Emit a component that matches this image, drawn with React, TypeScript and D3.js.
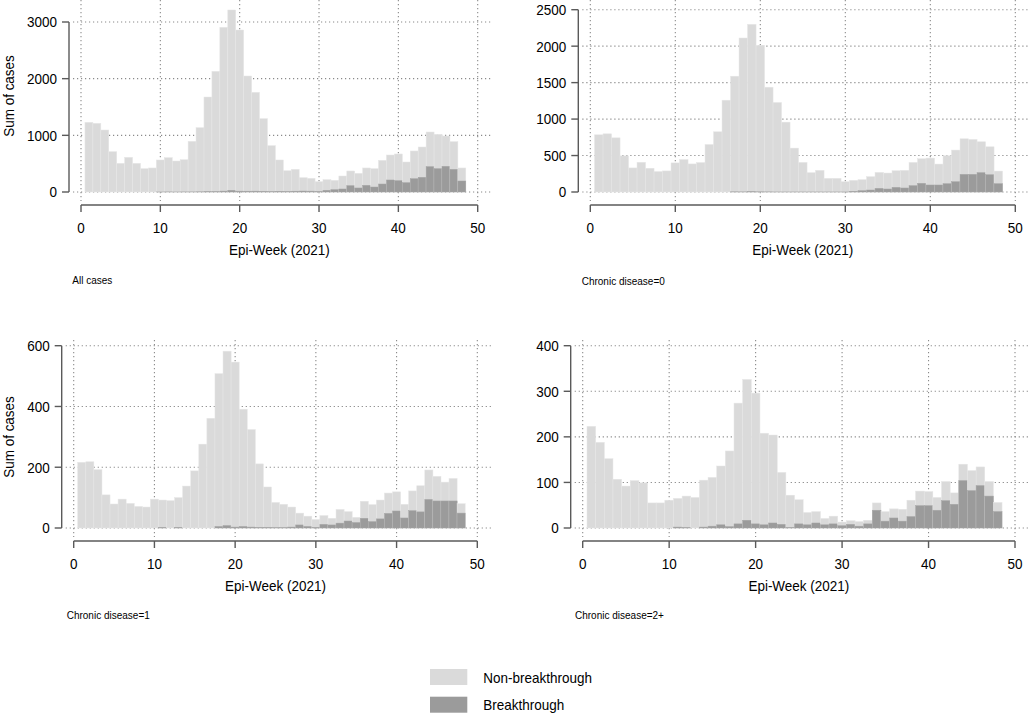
import React from "react";
import * as d3 from "d3";

// ---------- DATA ----------
const weeks: number[] = Array.from({ length: 48 }, (_, i) => i + 1);

const allTotal = [1229,1212,1094,712,506,612,506,412,424,565,606,547,570,894,1135,1676,2129,2906,3212,2859,2047,1759,1294,818,565,376,400,253,241,182,218,206,282,371,329,424,412,559,653,671,529,724,794,1059,1018,988,888,424];
const allBreak = [0,0,0,0,0,0,0,0,0,1,2,1,2,2,4,7,6,16,30,15,14,15,12,5,11,8,14,17,15,9,30,41,53,112,71,118,88,141,212,200,165,235,259,447,412,453,400,194];

const cd0Total = [784,798,743,495,330,408,326,280,289,399,445,385,404,651,826,1259,1588,2112,2299,2012,1437,1227,958,602,406,265,297,187,187,141,160,169,210,269,260,292,297,406,456,465,383,497,575,730,721,689,620,287];
const cd0Break = [0,0,0,0,0,0,0,0,0,0,0,0,0,0,0,0,3,2,5,3,2,1,1,1,1,1,1,1,1,1,9,18,27,50,41,64,55,87,119,96,96,114,141,242,242,265,237,114];

const cd1Total = [216,218,192,109,79,95,81,71,69,95,92,90,100,138,188,276,361,508,582,546,391,324,211,135,84,78,69,49,39,28,41,32,61,54,35,88,77,92,115,119,78,122,139,191,170,151,163,80];
const cd1Break = [0,0,0,0,0,0,0,0,0,0,2,0,2,0,0,0,0,5,8,3,5,3,2,2,1,1,3,10,5,2,12,10,16,23,18,32,21,30,48,56,33,57,53,94,89,89,89,49];

const cd2Total = [223,188,152,107,92,104,99,55,55,61,65,70,67,105,111,136,169,274,326,296,208,204,122,72,62,34,36,21,26,13,16,14,17,55,36,42,41,61,81,80,67,102,77,140,126,134,102,56];
const cd2Break = [0,0,0,0,0,0,0,0,0,0,2,1,0,2,4,7,3,9,17,9,7,11,8,1,9,7,11,7,9,5,8,4,9,39,15,22,15,25,49,49,39,60,52,104,82,93,70,36];

const xTicks = [0, 10, 20, 30, 40, 50];
const yTicksAll = [0, 1000, 2000, 3000];
const yTicksCd0 = [0, 500, 1000, 1500, 2000, 2500];
const yTicksCd1 = [0, 200, 400, 600];
const yTicksCd2 = [0, 100, 200, 300, 400];

const panelTitles = ["All cases", "Chronic disease=0", "Chronic disease=1", "Chronic disease=2+"];
const xTitle = "Epi-Week (2021)";
const yTitle = "Sum of cases";
const legendLabels = ["Non-breakthrough", "Breakthrough"];

// ---------- STYLE / LAYOUT ----------
const FONT = "'Liberation Sans', Arial, Helvetica, sans-serif";
const LIGHT = "#dadada";
const DARK = "#9b9b9b";
const AXIS = "#5a5a5a";
const GRID = "#8a8a8a";
const FS = 15;
const SX = 0.9;

type Panel = {
  total: number[];
  brk: number[];
  yTicks: number[];
  title: string;
  yAxisX: number;
  x0: number;
  x50: number;
  y0: number;
  yTopPx: number;
  xAxisY: number;
  plotTop: number;
  titleX: number;
  titleY: number;
  showYTitle: boolean;
  yTitleCY: number;
};

const panels: Panel[] = [
  { total: allTotal, brk: allBreak, yTicks: yTicksAll, title: panelTitles[0],
    yAxisX: 69, x0: 81, x50: 477.7, y0: 192, yTopPx: 22, xAxisY: 205, plotTop: 0,
    titleX: 72.3, titleY: 284, showYTitle: true, yTitleCY: 96 },
  { total: cd0Total, brk: cd0Break, yTicks: yTicksCd0, title: panelTitles[1],
    yAxisX: 578.3, x0: 590.3, x50: 1015.3, y0: 192, yTopPx: 9.7, xAxisY: 205, plotTop: 0,
    titleX: 581.7, titleY: 285, showYTitle: false, yTitleCY: 96 },
  { total: cd1Total, brk: cd1Break, yTicks: yTicksCd1, title: panelTitles[2],
    yAxisX: 61.7, x0: 73.7, x50: 477.3, y0: 528, yTopPx: 345.7, xAxisY: 541, plotTop: 340,
    titleX: 66.7, titleY: 619, showYTitle: true, yTitleCY: 437 },
  { total: cd2Total, brk: cd2Break, yTicks: yTicksCd2, title: panelTitles[3],
    yAxisX: 570.7, x0: 582.7, x50: 1015, y0: 528, yTopPx: 345.7, xAxisY: 541, plotTop: 340,
    titleX: 575, titleY: 619, showYTitle: false, yTitleCY: 437 },
];

function T({ x, y, anchor = "start", size = FS, rotate = 0, children }:
  { x: number; y: number; anchor?: string; size?: number; rotate?: number; children: React.ReactNode }) {
  const tr = `translate(${x},${y})${rotate ? ` rotate(${rotate})` : ""} scale(${SX},1)`;
  return (
    <text transform={tr} textAnchor={anchor as any} fontSize={size} fontFamily={FONT} fill="#000">
      {children}
    </text>
  );
}

function PanelView({ p }: { p: Panel }) {
  const x = d3.scaleLinear().domain([0, 50]).range([p.x0, p.x50]);
  const yMax = p.yTicks[p.yTicks.length - 1];
  const y = d3.scaleLinear().domain([0, yMax]).range([p.y0, p.yTopPx]);
  const gridLeft = p.yAxisX + 4;
  const gridRight = p.x50 + 14;
  return (
    <g>
      {p.yTicks.map((t) => (
        <line key={"hg" + t} x1={gridLeft} x2={gridRight} y1={y(t)} y2={y(t)}
          stroke={GRID} strokeWidth={1.1} strokeDasharray="1.2 2.8" />
      ))}
      {xTicks.map((t) => (
        <line key={"vg" + t} x1={x(t)} x2={x(t)} y1={p.plotTop} y2={p.y0 + 9}
          stroke={GRID} strokeWidth={1.1} strokeDasharray="1.2 2.8" />
      ))}
      {weeks.map((w, i) => {
        const xl = x(w - 0.5);
        const wd = x(w + 0.5) - xl;
        return (
          <g key={"b" + w}>
            <rect x={xl} width={wd} y={y(p.total[i])} height={p.y0 - y(p.total[i])}
              fill={LIGHT} stroke="#e6e6e6" strokeWidth={0.5} />
            {p.brk[i] > 0 && (
              <rect x={xl} width={wd} y={y(p.brk[i])} height={p.y0 - y(p.brk[i])}
                fill={DARK} stroke="#a6a6a6" strokeWidth={0.5} />
            )}
          </g>
        );
      })}
      <line x1={p.yAxisX} x2={p.yAxisX} y1={y(0)} y2={y(yMax)} stroke={AXIS} strokeWidth={1.4} />
      {p.yTicks.map((t) => (
        <g key={"yt" + t}>
          <line x1={p.yAxisX - 7} x2={p.yAxisX} y1={y(t)} y2={y(t)} stroke={AXIS} strokeWidth={1.4} />
          <T x={p.yAxisX - 12} y={y(t) + 5.4} anchor="end">{t}</T>
        </g>
      ))}
      <line x1={x(0)} x2={x(50)} y1={p.xAxisY} y2={p.xAxisY} stroke={AXIS} strokeWidth={1.4} />
      {xTicks.map((t) => (
        <g key={"xt" + t}>
          <line x1={x(t)} x2={x(t)} y1={p.xAxisY} y2={p.xAxisY + 7} stroke={AXIS} strokeWidth={1.4} />
          <T x={x(t)} y={p.xAxisY + 27.5} anchor="middle">{t}</T>
        </g>
      ))}
      <T x={(x(0) + x(50)) / 2} y={p.xAxisY + 49.5} anchor="middle">{xTitle}</T>
      {p.showYTitle && (
        <T x={14} y={p.yTitleCY} anchor="middle" rotate={-90}>{yTitle}</T>
      )}
      <text x={p.titleX} y={p.titleY} fontSize={10} fontFamily={FONT} fill="#000">
        {p.title}
      </text>
    </g>
  );
}

export default function App() {
  return (
    <svg width={1029} height={716} viewBox="0 0 1029 716"
      style={{ position: "absolute", left: 0, top: 0, background: "#fff" }}>
      <rect x={0} y={0} width={1029} height={716} fill="#fff" />
      {panels.map((p, i) => (
        <PanelView key={i} p={p} />
      ))}
      <rect x={430} y={669} width={37.3} height={16} fill={LIGHT} />
      <T x={483.3} y={682.7}>{legendLabels[0]}</T>
      <rect x={430} y={696.7} width={37.3} height={16} fill={DARK} />
      <T x={483.3} y={710.3}>{legendLabels[1]}</T>
    </svg>
  );
}
